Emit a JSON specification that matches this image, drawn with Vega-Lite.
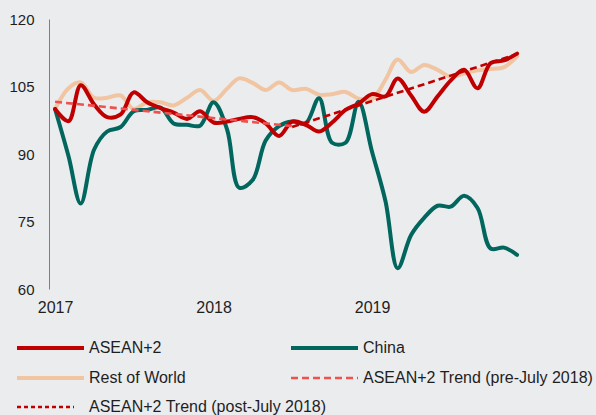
{
  "$schema": "https://vega.github.io/schema/vega-lite/v6.json",
  "width": 475,
  "height": 270,
  "autosize": {"type": "none"},
  "padding": {"left": 49, "top": 19, "right": 72, "bottom": 126},
  "background": "#ebecee",
  "config": {
    "view": {"stroke": null},
    "font": "Liberation Sans",
    "legend": {
      "title": null,
      "orient": "none",
      "symbolType": "stroke",
      "labelFont": "Liberation Sans",
      "labelFontSize": 16,
      "labelColor": "#1e1e1e",
      "clipHeight": 16,
      "rowPadding": 14,
      "labelLimit": 400
    }
  },
  "datasets": {
    "main": [
      {"d":"2017-01-01","s":"Rest of World","v":100},{"d":"2017-02-01","s":"Rest of World","v":104.6},{"d":"2017-03-01","s":"Rest of World","v":105.9},{"d":"2017-04-01","s":"Rest of World","v":102.5},{"d":"2017-05-01","s":"Rest of World","v":102.5},{"d":"2017-06-01","s":"Rest of World","v":103},{"d":"2017-07-01","s":"Rest of World","v":100},{"d":"2017-08-01","s":"Rest of World","v":101.5},{"d":"2017-09-01","s":"Rest of World","v":101.5},{"d":"2017-10-01","s":"Rest of World","v":100.8},{"d":"2017-11-01","s":"Rest of World","v":102.5},{"d":"2017-12-01","s":"Rest of World","v":104.2},
      {"d":"2018-01-01","s":"Rest of World","v":101.8},{"d":"2018-02-01","s":"Rest of World","v":104.5},{"d":"2018-03-01","s":"Rest of World","v":106.8},{"d":"2018-04-01","s":"Rest of World","v":105.8},{"d":"2018-05-01","s":"Rest of World","v":104.2},{"d":"2018-06-01","s":"Rest of World","v":105.9},{"d":"2018-07-01","s":"Rest of World","v":104.2},{"d":"2018-08-01","s":"Rest of World","v":104.5},{"d":"2018-09-01","s":"Rest of World","v":103.2},{"d":"2018-10-01","s":"Rest of World","v":103.3},{"d":"2018-11-01","s":"Rest of World","v":103.8},{"d":"2018-12-01","s":"Rest of World","v":102.3},
      {"d":"2019-01-01","s":"Rest of World","v":102.2},{"d":"2019-02-01","s":"Rest of World","v":106.5},{"d":"2019-03-01","s":"Rest of World","v":111},{"d":"2019-04-01","s":"Rest of World","v":108.2},{"d":"2019-05-01","s":"Rest of World","v":109.8},{"d":"2019-06-01","s":"Rest of World","v":108.7},{"d":"2019-07-01","s":"Rest of World","v":107.2},{"d":"2019-08-01","s":"Rest of World","v":107.9},{"d":"2019-09-01","s":"Rest of World","v":108.6},{"d":"2019-10-01","s":"Rest of World","v":108.9},{"d":"2019-11-01","s":"Rest of World","v":109.3},{"d":"2019-12-01","s":"Rest of World","v":111.7},

      {"d":"2017-01-01","s":"China","v":100},{"d":"2017-02-01","s":"China","v":89.5},{"d":"2017-03-01","s":"China","v":79},{"d":"2017-04-01","s":"China","v":91},{"d":"2017-05-01","s":"China","v":95},{"d":"2017-06-01","s":"China","v":96},{"d":"2017-07-01","s":"China","v":99.5},{"d":"2017-08-01","s":"China","v":99.8},{"d":"2017-09-01","s":"China","v":100.3},{"d":"2017-10-01","s":"China","v":96.8},{"d":"2017-11-01","s":"China","v":96.5},{"d":"2017-12-01","s":"China","v":96.3},
      {"d":"2018-01-01","s":"China","v":101.5},{"d":"2018-02-01","s":"China","v":95.5},{"d":"2018-03-01","s":"China","v":82.5},{"d":"2018-04-01","s":"China","v":84.2},{"d":"2018-05-01","s":"China","v":93},{"d":"2018-06-01","s":"China","v":96.2},{"d":"2018-07-01","s":"China","v":97.2},{"d":"2018-08-01","s":"China","v":96.8},{"d":"2018-09-01","s":"China","v":102.4},{"d":"2018-10-01","s":"China","v":92.5},{"d":"2018-11-01","s":"China","v":92.5},{"d":"2018-12-01","s":"China","v":101.6},
      {"d":"2019-01-01","s":"China","v":90.5},{"d":"2019-02-01","s":"China","v":79.5},{"d":"2019-03-01","s":"China","v":64.6},{"d":"2019-04-01","s":"China","v":72},{"d":"2019-05-01","s":"China","v":75.8},{"d":"2019-06-01","s":"China","v":78.5},{"d":"2019-07-01","s":"China","v":78.3},{"d":"2019-08-01","s":"China","v":80.7},{"d":"2019-09-01","s":"China","v":78},{"d":"2019-10-01","s":"China","v":69},{"d":"2019-11-01","s":"China","v":69.2},{"d":"2019-12-01","s":"China","v":67.6},

      {"d":"2017-01-01","s":"ASEAN+2","v":100},{"d":"2017-02-01","s":"ASEAN+2","v":97.3},{"d":"2017-03-01","s":"ASEAN+2","v":105.3},{"d":"2017-04-01","s":"ASEAN+2","v":101},{"d":"2017-05-01","s":"ASEAN+2","v":98.2},{"d":"2017-06-01","s":"ASEAN+2","v":98.8},{"d":"2017-07-01","s":"ASEAN+2","v":103.7},{"d":"2017-08-01","s":"ASEAN+2","v":101.5},{"d":"2017-09-01","s":"ASEAN+2","v":100.2},{"d":"2017-10-01","s":"ASEAN+2","v":99.2},{"d":"2017-11-01","s":"ASEAN+2","v":97.8},{"d":"2017-12-01","s":"ASEAN+2","v":99.5},
      {"d":"2018-01-01","s":"ASEAN+2","v":97},{"d":"2018-02-01","s":"ASEAN+2","v":97.2},{"d":"2018-03-01","s":"ASEAN+2","v":97.8},{"d":"2018-04-01","s":"ASEAN+2","v":98.2},{"d":"2018-05-01","s":"ASEAN+2","v":96.8},{"d":"2018-06-01","s":"ASEAN+2","v":94},{"d":"2018-07-01","s":"ASEAN+2","v":97.2},{"d":"2018-08-01","s":"ASEAN+2","v":96.5},{"d":"2018-09-01","s":"ASEAN+2","v":95},{"d":"2018-10-01","s":"ASEAN+2","v":97},{"d":"2018-11-01","s":"ASEAN+2","v":99.8},{"d":"2018-12-01","s":"ASEAN+2","v":101.2},
      {"d":"2019-01-01","s":"ASEAN+2","v":103.3},{"d":"2019-02-01","s":"ASEAN+2","v":102.8},{"d":"2019-03-01","s":"ASEAN+2","v":106.8},{"d":"2019-04-01","s":"ASEAN+2","v":103},{"d":"2019-05-01","s":"ASEAN+2","v":99.4},{"d":"2019-06-01","s":"ASEAN+2","v":102.8},{"d":"2019-07-01","s":"ASEAN+2","v":106.3},{"d":"2019-08-01","s":"ASEAN+2","v":108.7},{"d":"2019-09-01","s":"ASEAN+2","v":104.6},{"d":"2019-10-01","s":"ASEAN+2","v":110.2},{"d":"2019-11-01","s":"ASEAN+2","v":110.8},{"d":"2019-12-01","s":"ASEAN+2","v":112.3},

      {"d":"2017-01-01","s":"ASEAN+2 Trend (pre-July 2018)","v":101.6},{"d":"2018-07-01","s":"ASEAN+2 Trend (pre-July 2018)","v":96.2}
    ],
    "post": [
      {"d":"2018-07-01","s2":"ASEAN+2 Trend (post-July 2018)","v":96.0},{"d":"2019-12-01","s2":"ASEAN+2 Trend (post-July 2018)","v":112.2}
    ]
  },
  "encoding": {
    "x": {
      "field": "d",
      "type": "temporal",
      "scale": {"type": "utc", "domain": [{"year": 2016, "month": 12, "date": 18, "utc": true}, {"year": 2019, "month": 12, "date": 17, "utc": true}]},
      "axis": {
        "title": null,
        "values": [{"year": 2017, "month": 1, "date": 1, "utc": true}, {"year": 2018, "month": 1, "date": 1, "utc": true}, {"year": 2019, "month": 1, "date": 1, "utc": true}],
        "format": "%Y",
        "formatType": "utc",
        "domain": false,
        "ticks": false,
        "grid": false,
        "labelFont": "Liberation Sans",
        "labelFontSize": 16,
        "labelColor": "#1e1e1e",
        "labelPadding": 10,
        "labelFlush": false
      }
    },
    "y": {
      "field": "v",
      "type": "quantitative",
      "scale": {"domain": [60, 120], "nice": false, "zero": false},
      "axis": {
        "title": null,
        "values": [60, 75, 90, 105, 120],
        "domain": true,
        "domainColor": "#7f7f7f",
        "domainWidth": 1,
        "ticks": false,
        "grid": false,
        "labelFont": "Liberation Sans",
        "labelFontSize": 15,
        "labelColor": "#1e1e1e",
        "labelPadding": 15
      }
    }
  },
  "layer": [
    {
      "mark": {"type": "rule", "color": "#000000", "strokeWidth": 1.2},
      "encoding": {"y": {"datum": 100}, "x": {"value": 0}, "x2": {"value": 475}}
    },
    {
      "data": {"name": "main"},
      "encoding": {
        "color": {
          "field": "s",
          "type": "nominal",
          "scale": {
            "domain": ["ASEAN+2", "China", "Rest of World", "ASEAN+2 Trend (pre-July 2018)"],
            "range": ["#c00000", "#00665e", "#f1c5a2", "#f0504e"]
          },
          "legend": {
            "columns": 2,
            "direction": "horizontal",
            "legendX": -34,
            "legendY": 321,
            "symbolSize": 4489,
            "symbolStrokeWidth": 4,
            "labelOffset": 3,
            "columnPadding": 103,
            "encode": {
              "symbols": {
                "update": {
                  "strokeWidth": {"signal": "(datum.value == 'ASEAN+2 Trend (pre-July 2018)' ? 2.5 : 4)"},
                  "strokeDash": {"signal": "(datum.value == 'ASEAN+2 Trend (pre-July 2018)' ? [7, 4] : [1, 0])"}
                }
              }
            }
          }
        }
      },
      "layer": [
        {
          "transform": [{"filter": "datum.s == 'Rest of World'"}],
          "mark": {"type": "line", "interpolate": "catmull-rom", "strokeWidth": 4, "strokeCap": "round", "strokeJoin": "round"}
        },
        {
          "transform": [{"filter": "datum.s == 'China'"}],
          "mark": {"type": "line", "interpolate": "catmull-rom", "strokeWidth": 4, "strokeCap": "round", "strokeJoin": "round"}
        },
        {
          "transform": [{"filter": "datum.s == 'ASEAN+2'"}],
          "mark": {"type": "line", "interpolate": "catmull-rom", "strokeWidth": 4, "strokeCap": "round", "strokeJoin": "round"}
        },
        {
          "transform": [{"filter": "datum.s == 'ASEAN+2 Trend (pre-July 2018)'"}],
          "mark": {"type": "line", "strokeWidth": 2.6, "strokeDash": [7, 4]}
        }
      ]
    },
    {
      "data": {"name": "post"},
      "mark": {"type": "line", "strokeWidth": 2.6, "strokeDash": [7, 4]},
      "encoding": {
        "color": {
          "field": "s2",
          "type": "nominal",
          "scale": {"domain": ["ASEAN+2 Trend (post-July 2018)"], "range": ["#c00000"]},
          "legend": {
            "legendX": -33.5,
            "legendY": 380,
            "symbolSize": 3249,
            "symbolStrokeWidth": 2.5,
            "symbolDash": [4, 3],
            "labelOffset": 13.5
          }
        }
      }
    }
  ],
  "resolve": {"scale": {"color": "independent"}, "legend": {"color": "independent"}}
}
